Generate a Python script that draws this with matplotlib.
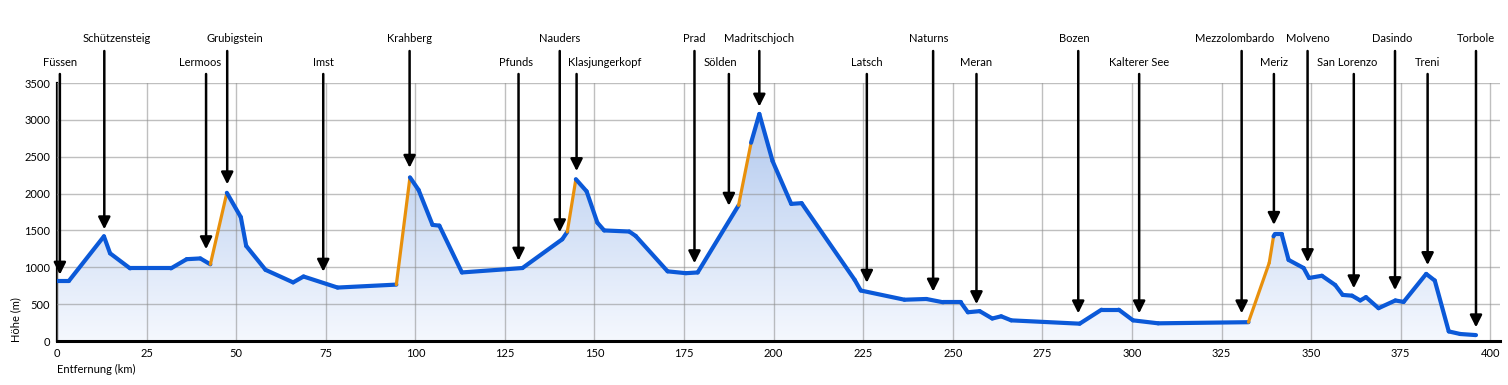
import numpy as np
import matplotlib
matplotlib.use("Agg")
import matplotlib.pyplot as plt
import matplotlib.transforms as mtransforms
from matplotlib.collections import LineCollection
from matplotlib.colors import LinearSegmentedColormap

plt.rcParams['font.family'] = ['Lato', 'DejaVu Sans']

# elevation profile (km, m)
km = [0, 3.4, 13.1, 14.8, 20.4, 31.8, 36.2, 40.0, 42.8, 47.4, 51.3, 52.8, 58.2, 65.9, 68.8,
      78.3, 94.7, 98.5, 100.9, 104.8, 106.7, 113.0, 129.9, 141.0, 142.4, 144.8, 147.8, 150.8,
      152.7, 159.7, 161.5, 170.4, 175.5, 178.8, 190.2, 193.7, 196.0, 199.7, 204.9, 207.8,
      222.6, 224.3, 236.5, 242.6, 247.3, 252.2, 254.2, 257.5, 261.0, 263.5, 266.3, 285.4,
      291.5, 296.3, 300.3, 307.3, 332.5, 338.3, 339.5, 339.8, 341.8, 343.7, 347.9, 349.4,
      353.0, 356.7, 358.8, 361.4, 363.7, 365.3, 368.8, 373.5, 375.8, 382.1, 384.5, 388.4,
      391.6, 396.0]
elev = [820, 820, 1420, 1190, 985, 985, 1110, 1120, 1040, 2010, 1680, 1290, 965, 795, 875,
        725, 765, 2220, 2050, 1575, 1565, 930, 990, 1380, 1480, 2195, 2030, 1605,
        1500, 1485, 1425, 945, 920, 930, 1840, 2690, 3080, 2440, 1860, 1870,
        830, 685, 560, 570, 525, 525, 390, 405, 305, 335, 280, 235,
        425, 425, 280, 240, 255, 1060, 1420, 1445, 1445, 1100, 990, 855,
        885, 760, 625, 615, 550, 595, 445, 550, 530, 910, 820, 130,
        95, 80]

# lift sections (drawn orange)
lift_start = [42.8, 94.7, 142.4, 190.2, 332.5]
lift_end = [47.4, 98.5, 144.8, 193.7, 339.5]

# waypoints
places = ["Füssen", "Schützensteig", "Lermoos", "Grubigstein", "Imst", "Krahberg", "Pfunds",
          "Nauders", "Klasjungerkopf", "Prad", "Sölden", "Madritschjoch", "Latsch", "Naturns",
          "Meran", "Bozen", "Kalterer See", "Mezzolombardo", "Meriz", "Molveno", "San Lorenzo",
          "Dasindo", "Treni", "Torbole"]
place_km = [0.8, 13.2, 41.6, 47.5, 74.3, 98.4, 128.8, 140.3, 145.0, 177.9, 187.5, 196.0,
            226.0, 244.5, 256.6, 285.0, 302.0, 330.6, 339.6, 349.0, 361.9, 373.4, 382.5, 396.0]
tip_elev = [900, 1515, 1245, 2125, 940, 2350, 1090, 1475, 2305, 1055, 1835, 3180,
            790, 670, 500, 375, 375, 375, 1575, 1070, 715, 690, 1030, 185]

# small horizontal nudges of some labels (pixels)
label_nudge = {"Schützensteig": 12, "Grubigstein": 8, "Lermoos": -6, "Klasjungerkopf": 28,
               "Sölden": -8, "Mezzolombardo": -7, "San Lorenzo": -7, "Pfunds": -3,
               "Bozen": -4, "Naturns": -4, "Dasindo": -3}

W, H = 1508, 385
fig = plt.figure(figsize=(W / 100, H / 100), dpi=100)
ax = fig.add_axes([57 / W, 1 - 341 / H, (1500 - 57) / W, (341 - 83) / H])

x = np.array(km)
y = np.array(elev)

# gradient fill under the profile
poly = ax.fill_between(x, y, 0, color='none', lw=0)
cmap = LinearSegmentedColormap.from_list("fill", ["#f5f8fe", "#b3caef"])
grad = np.linspace(0, 1, 256).reshape(-1, 1)
img = ax.imshow(grad, extent=[0, x.max(), 0, y.max()], origin='lower', aspect='auto',
                cmap=cmap, zorder=1)
img.set_clip_path(poly.get_paths()[0], transform=ax.transData)

# profile line, orange on the lift sections
segs, cols, widths = [], [], []
for i in range(len(x) - 1):
    lift = any(s <= x[i] and x[i + 1] <= e for s, e in zip(lift_start, lift_end))
    segs.append([(x[i], y[i]), (x[i + 1], y[i + 1])])
    cols.append("#e8900c" if lift else "#0b59d8")
    widths.append(2.3 if lift else 3.0)
lc = LineCollection(segs, colors=cols, linewidths=widths, capstyle='round', joinstyle='round',
                    zorder=4)
ax.add_collection(lc)

ax.set_xlim(0, 402.7)
ax.set_ylim(0, 3500)
ax.set_xticks(range(0, 401, 25))
ax.set_yticks(range(0, 3501, 500))
ax.grid(True, color='#8c8c8c', alpha=0.55, lw=1, zorder=2)
ax.set_axisbelow(False)
for side in ['top', 'right']:
    ax.spines[side].set_visible(False)
ax.spines['bottom'].set_linewidth(2.2)
ax.spines['left'].set_linewidth(1.6)
ax.spines['bottom'].set_zorder(5)
ax.tick_params(length=0, labelsize=8, pad=5)

fig.text(57 / W, 1 - 369 / H, "Entfernung (km)", fontsize=8, ha='left', va='center')
fig.text(16 / W, 1 - 320 / H, "Höhe (m)", fontsize=8, rotation=90, ha='center', va='center')

# waypoint arrows and labels
trans = mtransforms.blended_transform_factory(ax.transData, fig.transFigure)
for i, (name, pk, te) in enumerate(zip(places, place_km, tip_elev)):
    upper = i % 2 == 1
    top = 1 - (51 if upper else 74) / H
    ty = 1 - (39 if upper else 62) / H
    ax.annotate('', xy=(pk, te), xycoords='data', xytext=(pk, top),
                textcoords=('data', 'figure fraction'),
                arrowprops=dict(arrowstyle='-|>,head_length=0.6,head_width=0.3', color='black',
                                lw=1.8, mutation_scale=12, shrinkA=0, shrinkB=0),
                annotation_clip=False, zorder=6)
    off = mtransforms.offset_copy(trans, fig=fig, x=label_nudge.get(name, 0) * 0.72, units='points')
    ax.text(pk, ty, name, transform=off, ha='center', va='center', fontsize=8, clip_on=False)

fig.savefig("out.png", dpi=100)
